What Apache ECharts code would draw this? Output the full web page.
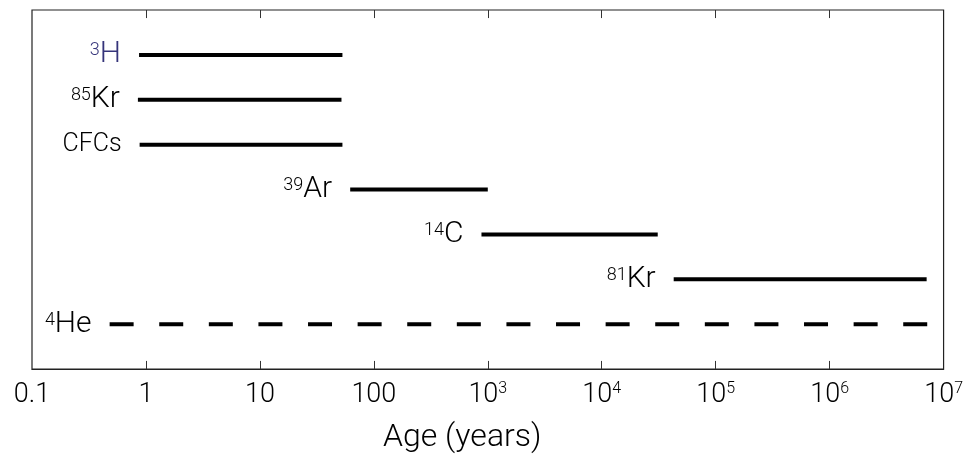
<!DOCTYPE html>
<html>
<head>
<meta charset="utf-8">
<script src="https://cdn.jsdelivr.net/npm/echarts@6/dist/echarts.min.js"></script>
<style>
  html, body { margin: 0; padding: 0; background: #fff; }
  #chart { width: 966px; height: 458px; }
</style>
</head>
<body>
<div id="chart"></div>
<script>
// tracer rows (top to bottom)
const tracerMass = ['3', '85', '', '39', '14', '81', '4'];
const tracerName = ['H', 'Kr', 'CFCs', 'Ar', 'C', 'Kr', 'He'];
const tracerRow = [1, 2, 3, 4, 5, 6, 7];
// dating range in years
const ageStart = [0.87, 0.85, 0.88, 62, 880, 42800, 0.48];
const ageEnd = [53, 52, 53, 1000, 31000, 7.1e6, 7.5e6];
const dashed = [false, false, false, false, false, false, true];

// x tick labels, 0.1 .. 10^7
const tickBase = ['0.1', '1', '10', '100', '10', '10', '10', '10', '10'];
const tickExp = ['', '', '', '', '3', '4', '5', '6', '7'];
// inner decade ticks drawn on the frame
const tickValues = [1, 10, 100, 1e3, 1e4, 1e5, 1e6];

const FONT = 'Roboto';
const INK = '#000';
const BLUE = '#35347a';
const ROWS = 8;            // y range 0..8
const TICK_LEN = 0.18;     // ~8px in row units

const chart = echarts.init(document.getElementById('chart'));

const labelRich = {
  m: { fontFamily: FONT, fontWeight: 300, fontSize: 30, color: INK, lineHeight: 32 },
  b: { fontFamily: FONT, fontWeight: 300, fontSize: 30, color: BLUE, lineHeight: 32 },
  s: { fontFamily: FONT, fontWeight: 300, fontSize: 18, color: INK, verticalAlign: 'top', lineHeight: 32, padding: [3, 0, 0, 0] },
  sb: { fontFamily: FONT, fontWeight: 300, fontSize: 18, color: BLUE, verticalAlign: 'top', lineHeight: 32, padding: [3, 0, 0, 0] },
  c: { fontFamily: FONT, fontWeight: 300, fontSize: 25, color: INK, lineHeight: 32 }
};

const labelText = (i) => {
  if (tracerMass[i] === '') return '{c|' + tracerName[i] + '}';
  const style = i === 0 ? 'b' : 'm';
  const sup = i === 0 ? 'sb' : 's';
  return '{' + sup + '|' + tracerMass[i] + '}{' + style + '|' + tracerName[i] + '}';
};

// one line per tracer, label pinned to its left end
const lineSeries = tracerName.map((name, i) => ({
  type: 'line',
  symbol: 'none',
  silent: true,
  data: [[ageStart[i], tracerRow[i]], [ageEnd[i], tracerRow[i]]],
  lineStyle: {
    color: '#000',
    width: 4,
    type: dashed[i] ? [24, 25.6] : 'solid',
    cap: 'butt'
  },
  markPoint: {
    silent: true,
    symbol: 'circle',
    symbolSize: 0,
    itemStyle: { color: 'transparent' },
    data: [{
      coord: [ageStart[i], tracerRow[i]],
      label: {
        show: true,
        position: 'left',
        distance: 18,
        formatter: labelText(i),
        rich: labelRich
      }
    }]
  }
}));

// frame ticks (top and bottom, pointing inward) as a markLine on the first series
const tickSegments = [];
tickValues.forEach((v) => {
  tickSegments.push([{ coord: [v, 0] }, { coord: [v, TICK_LEN] }]);
  tickSegments.push([{ coord: [v, ROWS] }, { coord: [v, ROWS - TICK_LEN] }]);
});
lineSeries[0].markLine = {
  silent: true,
  symbol: 'none',
  animation: false,
  label: { show: false },
  lineStyle: { color: '#333', width: 1, type: 'solid' },
  data: tickSegments
};

const tickFormatter = (v) => {
  const k = Math.round(Math.log10(v)) + 1;
  if (tickExp[k] === '') return '{n|' + tickBase[k] + '}';
  return '{n|' + tickBase[k] + '}{e|' + tickExp[k] + '}';
};

chart.setOption({
  animation: false,
  grid: {
    left: 32, right: 22, top: 10, bottom: 89,
    show: true,
    borderColor: '#222',
    borderWidth: 1.2
  },
  xAxis: {
    type: 'log',
    logBase: 10,
    min: 0.1,
    max: 1e7,
    position: 'bottom',
    axisLine: { show: true, onZero: false, lineStyle: { color: '#222', width: 1.2 } },
    splitLine: { show: false },
    axisTick: { show: false },
    axisLabel: {
      show: true,
      margin: 12,
      formatter: tickFormatter,
      rich: {
        n: { fontFamily: FONT, fontWeight: 300, fontSize: 27, color: INK, lineHeight: 28 },
        e: { fontFamily: FONT, fontWeight: 300, fontSize: 16, color: INK, verticalAlign: 'top', lineHeight: 28 }
      }
    }
  },
  yAxis: {
    type: 'value',
    min: 0,
    max: ROWS,
    inverse: true,
    show: false
  },
  graphic: [{
    type: 'text',
    left: 383,
    top: 422,
    style: {
      text: 'Age (years)',
      font: '300 32px ' + FONT,
      fill: INK
    }
  }],
  series: lineSeries
});
</script>
</body>
</html>
